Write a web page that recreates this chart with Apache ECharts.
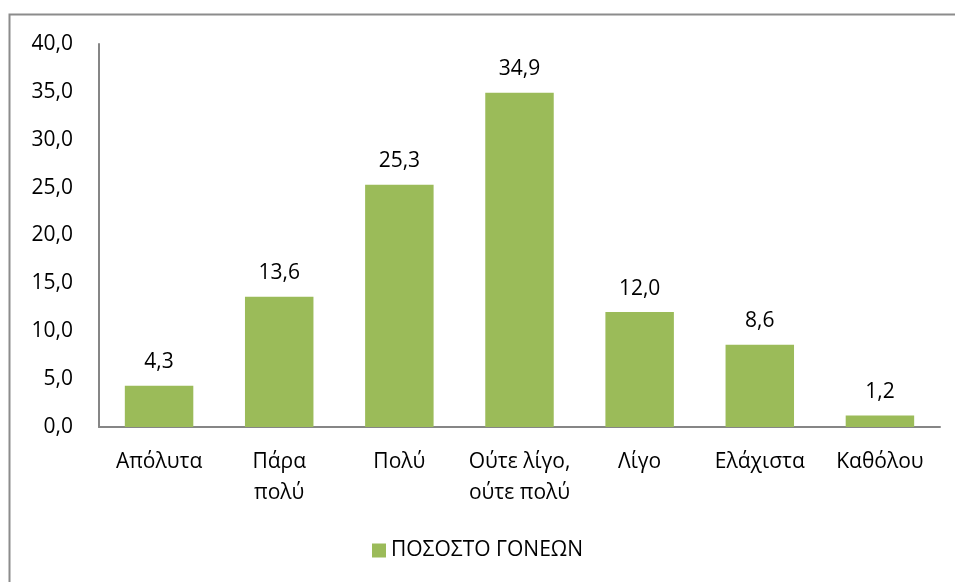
<!DOCTYPE html>
<html lang="el">
<head>
  <meta charset="UTF-8">
  <title>ΠΟΣΟΣΤΟ ΓΟΝΕΩΝ</title>
  <script src="https://cdn.jsdelivr.net/npm/echarts@6/dist/echarts.min.js"></script>
  <style>
    html, body { margin: 0; padding: 0; background: #fff; }
    #wrap { width: 955px; height: 582px; }
  </style>
</head>
<body>
<div id="wrap"></div>
<script>
  // δεδομένα
  const categories = ["Απόλυτα", "Πάρα\nπολύ", "Πολύ", "Ούτε λίγο,\nούτε πολύ", "Λίγο", "Ελάχιστα", "Καθόλου"]
  const values = [4.3, 13.6, 25.3, 34.9, 12.0, 8.6, 1.2]
  const seriesName = "ΠΟΣΟΣΤΟ ΓΟΝΕΩΝ"

  const font = "'Open Sans', 'Noto Sans', sans-serif"
  const fs = 21
  const fmt = v => Number(v).toFixed(1).replace(".", ",")

  const chart = echarts.init(document.querySelector("#wrap"))

  chart.setOption({
    animation: false,
    textStyle: { fontFamily: font },
    graphic: [{
      type: "rect",
      shape: { x: 9.5, y: 14.5, width: 1200, height: 1200 },
      style: { fill: "none", stroke: "#8c8c8c", lineWidth: 2 },
      silent: true
    }],
    grid: { left: 99, top: 44, right: 15, bottom: 155 },
    legend: {
      bottom: 16,
      left: "center",
      icon: "rect",
      itemWidth: 14,
      itemHeight: 14,
      itemGap: 8,
      textStyle: { fontFamily: font, fontSize: fs, color: "#000" },
      data: [seriesName]
    },
    xAxis: {
      type: "category",
      data: categories,
      axisLine: { lineStyle: { color: "#868686", width: 2 } },
      axisTick: { show: false },
      axisLabel: { color: "#000", fontSize: fs, lineHeight: 31, margin: 20, fontFamily: font, interval: 0 }
    },
    yAxis: {
      type: "value",
      min: 0,
      max: 40,
      interval: 5,
      splitLine: { show: false },
      axisLine: { show: true, lineStyle: { color: "#868686", width: 2 } },
      axisTick: { show: false },
      axisLabel: { color: "#000", fontSize: fs, margin: 26, fontFamily: font, formatter: fmt }
    },
    series: [{
      name: seriesName,
      type: "bar",
      data: values,
      barWidth: "57%",
      itemStyle: { color: "#9bbb59" },
      label: {
        show: true,
        position: "top",
        distance: 13,
        color: "#000",
        fontSize: fs,
        fontFamily: font,
        formatter: p => fmt(p.value)
      }
    }]
  })
</script>
</body>
</html>
